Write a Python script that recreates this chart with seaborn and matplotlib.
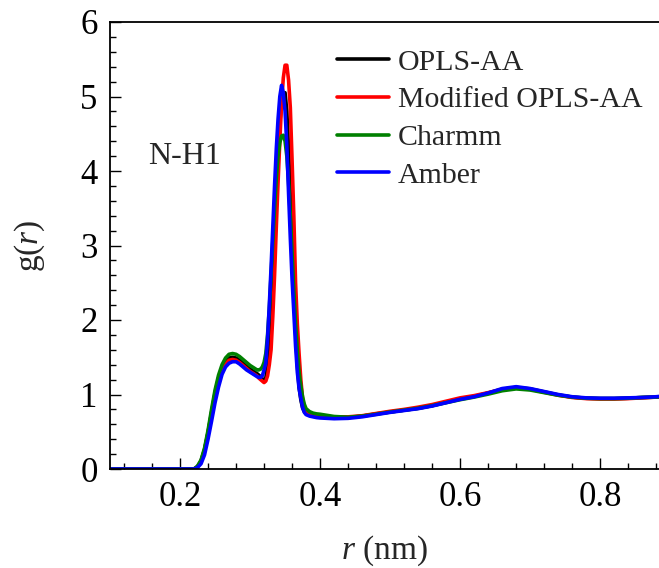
import matplotlib
matplotlib.use("Agg")
import matplotlib.pyplot as plt
from matplotlib.ticker import MultipleLocator
import numpy as np
import pandas as pd
import seaborn as sns

# Radial distance grid (nm): coarse before the first shell, fine across the main peak
r_nm = [
    0.10, 0.22, 0.225, 0.23, 0.235, 0.24, 0.245, 0.25, 0.255, 0.26,
    0.265, 0.27, 0.275, 0.28, 0.285, 0.29, 0.295, 0.30, 0.305, 0.31,
    0.3125, 0.315, 0.3175, 0.32, 0.3225, 0.325, 0.3275, 0.33, 0.3325, 0.335,
    0.3375, 0.34, 0.3425, 0.345, 0.3475, 0.35, 0.3525, 0.355, 0.3575, 0.36,
    0.3625, 0.365, 0.3675, 0.37, 0.3725, 0.375, 0.3775, 0.38,
    0.385, 0.39, 0.395, 0.40,
    0.42, 0.44, 0.46, 0.48, 0.50, 0.52, 0.54, 0.56, 0.58, 0.60,
    0.62, 0.64, 0.66, 0.68, 0.70, 0.72, 0.74, 0.76, 0.78, 0.80,
    0.82, 0.84, 0.86, 0.88, 0.885,
]

g_opls = [
    0, 0, 0.03, 0.11, 0.26, 0.49, 0.76, 1.02, 1.22, 1.36,
    1.44, 1.49, 1.50, 1.49, 1.46, 1.42, 1.38, 1.34, 1.31, 1.28,
    1.26, 1.24, 1.21, 1.19, 1.22, 1.40, 1.75, 2.20, 2.75, 3.30,
    3.85, 4.30, 4.65, 4.90, 5.05, 5.05, 4.80, 4.30, 3.65, 3.00,
    2.40, 1.85, 1.40, 1.10, 0.93, 0.82, 0.77, 0.74,
    0.72, 0.71, 0.70, 0.695,
    0.69, 0.69, 0.71, 0.74, 0.765, 0.79, 0.815, 0.85, 0.895, 0.94,
    0.975, 1.02, 1.07, 1.095, 1.075, 1.035, 0.995, 0.965, 0.95, 0.945,
    0.945, 0.95, 0.96, 0.965, 0.97,
]

g_mod_opls = [
    0, 0, 0.03, 0.10, 0.25, 0.48, 0.74, 1.00, 1.20, 1.33,
    1.41, 1.46, 1.47, 1.46, 1.43, 1.39, 1.35, 1.31, 1.28, 1.25,
    1.22, 1.20, 1.18, 1.16, 1.18, 1.25, 1.40, 1.60, 2.05, 2.60,
    3.25, 3.85, 4.40, 4.90, 5.25, 5.42, 5.42, 5.22, 4.85, 4.15,
    3.40, 2.50, 1.95, 1.55, 1.20, 0.95, 0.82, 0.76,
    0.73, 0.72, 0.71, 0.705,
    0.70, 0.70, 0.715, 0.745, 0.775, 0.80, 0.83, 0.865, 0.91, 0.955,
    0.985, 1.025, 1.07, 1.09, 1.07, 1.03, 0.99, 0.96, 0.945, 0.94,
    0.94, 0.945, 0.955, 0.965, 0.97,
]

g_charmm = [
    0, 0, 0.04, 0.12, 0.28, 0.52, 0.80, 1.06, 1.26, 1.40,
    1.49, 1.54, 1.55, 1.54, 1.51, 1.47, 1.43, 1.39, 1.36, 1.33,
    1.33, 1.34, 1.37, 1.43, 1.55, 1.80, 2.15, 2.60, 3.05, 3.50,
    3.90, 4.20, 4.38, 4.47, 4.48, 4.40, 4.20, 3.85, 3.40, 2.90,
    2.40, 1.95, 1.60, 1.30, 1.12, 0.97, 0.87, 0.81,
    0.77, 0.75, 0.74, 0.735,
    0.705, 0.695, 0.71, 0.735, 0.765, 0.79, 0.815, 0.85, 0.89, 0.93,
    0.965, 1.005, 1.05, 1.075, 1.06, 1.025, 0.99, 0.965, 0.95, 0.945,
    0.945, 0.95, 0.96, 0.965, 0.97,
]

g_amber = [
    0, 0, 0.02, 0.07, 0.19, 0.40, 0.64, 0.89, 1.10, 1.27,
    1.37, 1.42, 1.44, 1.44, 1.41, 1.37, 1.33, 1.30, 1.27, 1.24,
    1.23, 1.23, 1.25, 1.33, 1.42, 1.75, 2.20, 2.70, 3.25, 3.80,
    4.30, 4.70, 5.00, 5.15, 5.05, 4.80, 4.35, 3.70, 3.10, 2.55,
    2.10, 1.65, 1.30, 1.08, 0.95, 0.83, 0.76, 0.73,
    0.71, 0.70, 0.69, 0.685,
    0.675, 0.68, 0.70, 0.73, 0.76, 0.785, 0.81, 0.845, 0.89, 0.935,
    0.97, 1.02, 1.08, 1.105, 1.08, 1.04, 1.00, 0.97, 0.955, 0.95,
    0.95, 0.955, 0.96, 0.97, 0.975,
]

force_fields = ["OPLS-AA", "Modified OPLS-AA", "Charmm", "Amber"]
line_colors = ["#000000", "#ff0000", "#008000", "#0000ff"]

df = pd.concat(
    [
        pd.DataFrame({"r": r_nm, "g": vals, "ff": name})
        for name, vals in zip(force_fields, [g_opls, g_mod_opls, g_charmm, g_amber])
    ],
    ignore_index=True,
)

sns.set_theme(style="ticks")
plt.rcParams["font.family"] = ["Liberation Serif", "DejaVu Serif"]
plt.rcParams["mathtext.fontset"] = "custom"
plt.rcParams["mathtext.it"] = "Liberation Serif:italic"
plt.rcParams["mathtext.rm"] = "Liberation Serif"

fig = plt.figure(figsize=(6.59, 5.68), dpi=100)
ax = fig.add_axes([110 / 659, 99 / 568, 549 / 659, 447 / 568])

sns.lineplot(
    data=df, x="r", y="g", hue="ff", hue_order=force_fields,
    palette=line_colors, estimator=None, sort=True, linewidth=2.6, ax=ax,
)

ax.set_xlim(0.1, 0.884)
ax.set_ylim(0, 6)
ax.xaxis.set_major_locator(MultipleLocator(0.2))
ax.xaxis.set_minor_locator(MultipleLocator(0.04))
ax.yaxis.set_major_locator(MultipleLocator(1))
ax.yaxis.set_minor_locator(MultipleLocator(0.2))
ax.set_xticks([0.2, 0.4, 0.6, 0.8])
ax.set_xticklabels(["0.2", "0.4", "0.6", "0.8"])
ax.tick_params(which="both", direction="in", top=False, right=False, width=1.0, colors="black")
ax.tick_params(which="major", length=8, labelsize=25, pad=9)
ax.tick_params(which="minor", length=4.5)

for side in ["left", "bottom", "top"]:
    ax.spines[side].set_linewidth(1.3)
    ax.spines[side].set_color("black")
ax.spines["right"].set_visible(False)

ax.set_xlabel(r"$\it{r}$ (nm)", fontsize=24, labelpad=14)
ax.set_ylabel(r"g($\it{r}$)", fontsize=24, labelpad=24)

ax.text(0.207, 4.2, "N-H1", fontsize=23, ha="center", va="center")

leg = ax.legend(
    loc="upper left", bbox_to_anchor=(0.413, 0.94), frameon=False,
    fontsize=21.5, handlelength=1.75, handletextpad=0.3, labelspacing=0.36,
    borderpad=0.0, borderaxespad=0.0,
)
for line in leg.get_lines():
    line.set_linewidth(2.6)

fig.savefig("out.png", dpi=100)
